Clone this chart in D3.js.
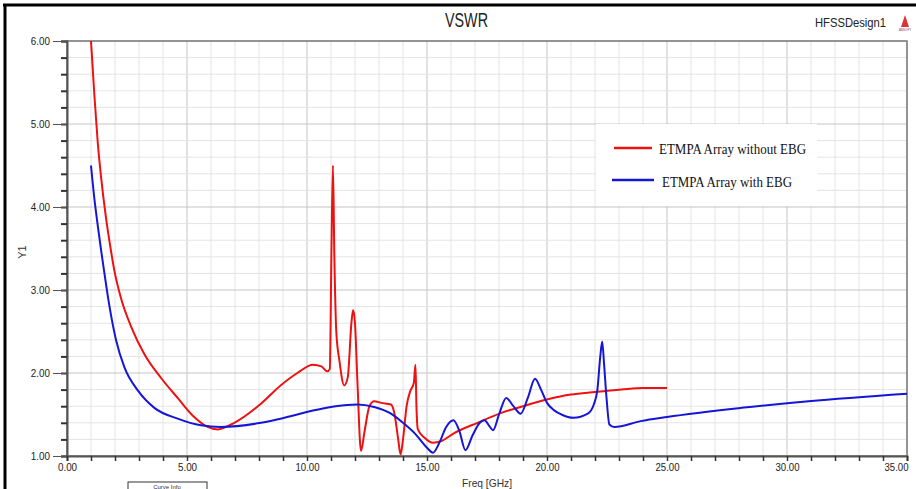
<!DOCTYPE html>
<html>
<head>
<meta charset="utf-8">
<script src="https://cdn.jsdelivr.net/npm/d3@7"></script>
<style>
  body { margin: 0; background: #fff; }
  svg { display: block; }
</style>
</head>
<body>
<div id="chart"></div>
<script>
// VSWR vs frequency
const redFreq = [1.0, 1.14, 1.28, 1.42, 1.62, 1.8, 1.97, 2.25, 2.67, 3.22, 3.92, 4.61, 5.3, 5.86, 6.28, 6.97, 8.08, 8.9, 9.6, 10.25,
  10.6, 10.85, 10.95, 11.02, 11.08, 11.14, 11.22, 11.35, 11.55, 11.7, 11.85, 11.92, 12.0, 12.1, 12.25, 12.4, 12.6, 12.8, 13.1, 13.5,
  13.65, 13.8, 13.9, 14.0, 14.15, 14.3, 14.45, 14.52, 14.56, 14.62, 14.9, 15.25, 15.6, 16.1, 17.1, 18.1, 19.0, 20.0, 21.0, 22.0,
  23.1, 24.0, 25.0];
const redVswr = [6.0, 5.35, 4.78, 4.36, 3.88, 3.53, 3.24, 2.9, 2.56, 2.23, 1.94, 1.7, 1.47, 1.35, 1.32, 1.4, 1.63, 1.85, 2.0, 2.1,
  2.08, 2.02, 2.05, 3.5, 4.5, 3.4, 2.5, 2.15, 1.85, 1.95, 2.6, 2.76, 2.6, 1.9, 1.06, 1.3, 1.6, 1.66, 1.64, 1.62,
  1.5, 1.2, 1.02, 1.2, 1.6, 1.78, 1.88, 2.1, 1.6, 1.32, 1.22, 1.16, 1.18, 1.27, 1.4, 1.52, 1.6, 1.68, 1.74, 1.77,
  1.8, 1.82, 1.82];

const blueFreq = [1.0, 1.14, 1.28, 1.42, 1.56, 1.76, 2.04, 2.39, 2.95, 3.64, 4.61, 5.58, 6.42, 8.08, 8.9, 10.3, 11.2, 12.1, 12.8, 13.5,
  14.0, 14.5, 15.0, 15.25, 15.5, 15.8, 16.1, 16.35, 16.6, 16.9, 17.2, 17.4, 17.6, 17.75, 18.0, 18.3, 18.6, 18.9, 19.2, 19.5,
  19.75, 20.0, 20.3, 20.6, 21.1, 21.7, 21.95, 22.1, 22.22, 22.3, 22.38, 22.48, 22.6, 22.8, 23.9, 25.0, 28.1, 30.9, 35.0];
const blueVswr = [4.5, 4.1, 3.78, 3.48, 3.2, 2.82, 2.4, 2.07, 1.79, 1.58, 1.45, 1.37, 1.35, 1.4, 1.45, 1.55, 1.6, 1.62, 1.59, 1.51,
  1.4, 1.27, 1.1, 1.04, 1.15, 1.35, 1.43, 1.3, 1.07, 1.25, 1.4, 1.43, 1.36, 1.31, 1.5, 1.7, 1.6, 1.51, 1.7, 1.93,
  1.8, 1.64, 1.55, 1.5, 1.46, 1.51, 1.62, 1.8, 2.2, 2.38, 2.1, 1.7, 1.38, 1.35, 1.42, 1.47, 1.58, 1.66, 1.75];

const xTicks = [0, 5, 10, 15, 20, 25, 30, 35];
const yTicks = [1, 2, 3, 4, 5, 6];
const seriesNames = ["ETMPA Array without EBG", "ETMPA Array with EBG"];

const W = 916, H = 489;
const pLeft = 67, pRight = 907, pTop = 41, pBottom = 456;
const sans = "'Liberation Sans', Arial, sans-serif";

const svg = d3.select("#chart").append("svg").attr("width", W).attr("height", H);

const x = d3.scaleLinear().domain([0, 35]).range([pLeft, pRight]);
const y = d3.scaleLinear().domain([1, 6]).range([pBottom, pTop]);

// the HFSS fonts are condensed: squeeze each label to roughly 4.8px per char
function squeeze(sel, perChar) {
  sel.each(function () {
    const t = d3.select(this);
    t.attr("textLength", t.text().length * perChar).attr("lengthAdjust", "spacingAndGlyphs");
  });
}

// outer black frame (top + left edges visible)
svg.append("line").attr("x1", 3).attr("x2", W).attr("y1", 5).attr("y2", 5)
  .attr("stroke", "#000").attr("stroke-width", 3);
svg.append("line").attr("x1", 5).attr("x2", 5).attr("y1", 4).attr("y2", H)
  .attr("stroke", "#000").attr("stroke-width", 3);

// grid
const grid = svg.append("g");
d3.range(0, 36, 1).forEach((f) => {
  grid.append("line").attr("x1", x(f)).attr("x2", x(f)).attr("y1", pTop).attr("y2", pBottom)
    .attr("stroke", f % 5 === 0 ? "#c4c4c4" : "#e4e4e4").attr("stroke-width", 1);
});
d3.range(1, 6.01, 0.2).forEach((v) => {
  const major = Math.abs(v - Math.round(v)) < 1e-6;
  grid.append("line").attr("x1", pLeft).attr("x2", pRight).attr("y1", y(v)).attr("y2", y(v))
    .attr("stroke", major ? "#c4c4c4" : "#e4e4e4").attr("stroke-width", 1);
});

// plot frame
svg.append("rect").attr("x", pLeft).attr("y", pTop).attr("width", pRight - pLeft).attr("height", pBottom - pTop)
  .attr("fill", "none").attr("stroke", "#7a7a7a").attr("stroke-width", 1.5);

// axes
svg.append("g").attr("transform", `translate(${pLeft},0)`)
  .call(d3.axisLeft(y).tickValues(d3.range(1, 6.01, 0.2)).tickSize(6).tickFormat(() => ""))
  .call((g) => g.select(".domain").attr("stroke", "#555").attr("stroke-width", 2))
  .call((g) => g.selectAll(".tick line").attr("stroke", "#333").attr("stroke-width", 2));
svg.append("g").attr("transform", `translate(${pLeft},0)`)
  .call(d3.axisLeft(y).tickValues(yTicks).tickSize(14).tickPadding(3).tickFormat(d3.format(".2f")))
  .call((g) => g.select(".domain").remove())
  .call((g) => g.selectAll(".tick line").attr("stroke", "#555").attr("stroke-width", 1))
  .call((g) => g.selectAll(".tick text").attr("font-family", sans).attr("font-size", 11.5).attr("fill", "#222")
    .call(squeeze, 4.8));

svg.append("g").attr("transform", `translate(0,${pBottom})`)
  .call(d3.axisBottom(x).tickValues(d3.range(0, 36, 1)).tickSize(5).tickFormat(() => ""))
  .call((g) => g.select(".domain").attr("stroke", "#555").attr("stroke-width", 2))
  .call((g) => g.selectAll(".tick line").attr("stroke", "#333").attr("stroke-width", 1.5));
svg.append("g").attr("transform", `translate(0,${pBottom})`)
  .call(d3.axisBottom(x).tickValues(xTicks).tickSize(0).tickPadding(7).tickFormat(d3.format(".2f")))
  .call((g) => g.select(".domain").remove())
  .call((g) => g.selectAll(".tick text").attr("font-family", sans).attr("font-size", 11.5).attr("fill", "#222")
    .call(squeeze, 4.8))
  .call((g) => g.selectAll(".tick").filter((d) => d === 35).select("text").attr("text-anchor", "end").attr("x", 1));

// curves
const line = d3.line().x((d) => x(d[0])).y((d) => y(d[1])).curve(d3.curveMonotoneX);
const redPts = d3.zip(redFreq, redVswr);
const bluePts = d3.zip(blueFreq, blueVswr);
svg.append("path").datum(redPts).attr("d", line)
  .attr("fill", "none").attr("stroke", "#ee1111").attr("stroke-width", 2);
svg.append("path").datum(bluePts).attr("d", line)
  .attr("fill", "none").attr("stroke", "#1515d6").attr("stroke-width", 2);

// legend
const lg = svg.append("g");
lg.append("rect").attr("x", 596).attr("y", 124).attr("width", 221).attr("height", 82).attr("fill", "#fff");
const legendRows = [
  { name: seriesNames[0], color: "#ee1111", ly: 148, x1: 614, x2: 652, tx: 659, ty: 154, w: 147 },
  { name: seriesNames[1], color: "#1515d6", ly: 180, x1: 612, x2: 654, tx: 662, ty: 187, w: 130 },
];
legendRows.forEach((r) => {
  lg.append("line").attr("x1", r.x1).attr("x2", r.x2).attr("y1", r.ly).attr("y2", r.ly)
    .attr("stroke", r.color).attr("stroke-width", 2.5);
  lg.append("text").attr("x", r.tx).attr("y", r.ty).text(r.name)
    .attr("font-family", "'Liberation Serif', 'Times New Roman', serif").attr("font-size", 14)
    .attr("textLength", r.w).attr("lengthAdjust", "spacingAndGlyphs").attr("fill", "#111");
});

// titles
svg.append("text").attr("x", 445).attr("y", 27).text("VSWR")
  .attr("font-family", sans).attr("font-size", 20).attr("fill", "#222")
  .attr("textLength", 43).attr("lengthAdjust", "spacingAndGlyphs");
svg.append("text").attr("x", 815).attr("y", 27).text("HFSSDesign1")
  .attr("font-family", sans).attr("font-size", 13).attr("fill", "#222")
  .attr("textLength", 71).attr("lengthAdjust", "spacingAndGlyphs");
svg.append("path").attr("d", "M905,15 L901,27 L909,27 Z").attr("fill", "#d33");
svg.append("text").attr("x", 905).attr("y", 31).attr("text-anchor", "middle").text("ANSOFT")
  .attr("font-family", sans).attr("font-size", 3).attr("fill", "#933");

svg.append("text").attr("transform", "translate(26,252) rotate(-90)").attr("text-anchor", "middle").text("Y1")
  .attr("font-family", sans).attr("font-size", 11).attr("fill", "#333");
svg.append("text").attr("x", 462).attr("y", 487).text("Freq [GHz]")
  .attr("font-family", sans).attr("font-size", 11.5).attr("fill", "#333")
  .attr("textLength", 50).attr("lengthAdjust", "spacingAndGlyphs");

// curve info box, cut off at the bottom edge
svg.append("rect").attr("x", 128).attr("y", 482).attr("width", 79).attr("height", 20)
  .attr("fill", "#fff").attr("stroke", "#333").attr("stroke-width", 1);
svg.append("text").attr("x", 167).attr("y", 488.5).attr("text-anchor", "middle").text("Curve Info")
  .attr("font-family", sans).attr("font-size", 6).attr("fill", "#333");
</script>
</body>
</html>
